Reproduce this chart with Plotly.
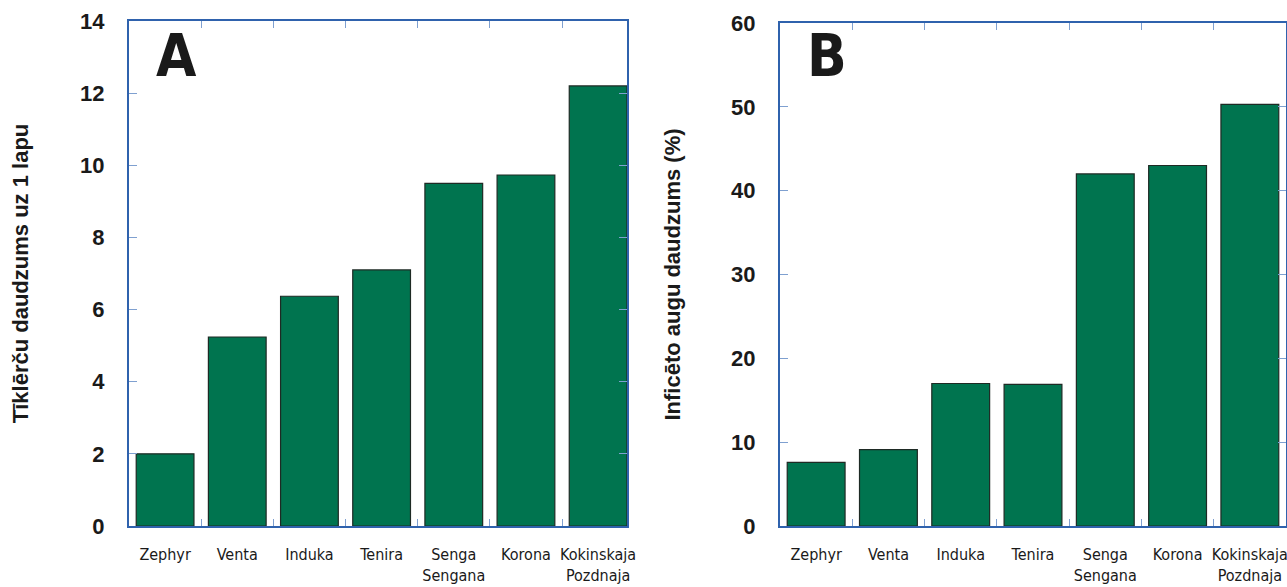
import plotly.graph_objects as go

# Cultivar names (x categories, shared by both panels)
cultivars = ["Zephyr", "Venta", "Induka", "Tenira", "Senga<br>Sengana",
             "Korona", "Kokinskaja<br>Pozdnaja"]

# Panel A: mites per leaf
mites_per_leaf = [2.0, 5.24, 6.37, 7.1, 9.5, 9.73, 12.2]
# Panel B: infected plants (%)
infected_pct = [7.6, 9.1, 17.0, 16.9, 42.0, 43.0, 50.3]

a_ticks = [0, 2, 4, 6, 8, 10, 12, 14]
b_ticks = [0, 10, 20, 30, 40, 50, 60]

BAR = "#00744f"
AXIS = "#2f62ad"
TICK = "#7fa0d0"
INK = "#1a1a1a"
NARROW = "DejaVu Sans Condensed"

fig = go.Figure()
fig.add_trace(go.Bar(x=cultivars, y=mites_per_leaf, xaxis="x", yaxis="y",
                     marker=dict(color=BAR, line=dict(color="#1e2a24", width=1.2)),
                     width=0.8, showlegend=False))
fig.add_trace(go.Bar(x=cultivars, y=infected_pct, xaxis="x2", yaxis="y2",
                     marker=dict(color=BAR, line=dict(color="#1e2a24", width=1.2)),
                     width=0.8, showlegend=False))

xcommon = dict(type="category", showgrid=False, showline=True, linecolor=AXIS,
               linewidth=2, mirror="ticks", ticks="inside", tickson="boundaries",
               ticklen=7, tickcolor=TICK, tickwidth=1.2, tickangle=0, automargin=False,
               ticklabelstandoff=13,
               tickfont=dict(family=NARROW, size=16, color=INK))
ycommon = dict(showgrid=False, showline=True, linecolor=AXIS, linewidth=2,
               mirror="ticks", ticks="inside", ticklen=8, tickcolor=TICK, tickwidth=1.2,
               zeroline=False, automargin=False, ticklabelstandoff=18,
               tickfont=dict(family="Liberation Sans, Arial", size=22, color=INK,
                             weight="bold"),
               title_font=dict(family="Liberation Sans, Arial", size=22, color=INK,
                               weight="bold"))

fig.update_layout(
    width=1287, height=587,
    margin=dict(l=0, r=0, t=0, b=0, autoexpand=False),
    paper_bgcolor="white", plot_bgcolor="white",
    bargap=0.2,
    xaxis=dict(xcommon, domain=[129 / 1287, 627 / 1287], range=[-0.5, 6.4], anchor="y"),
    yaxis=dict(ycommon, domain=[61 / 587, 566 / 587], range=[0, 14], tickvals=a_ticks,
               anchor="x", title=dict(text="Tīklērču daudzums uz 1 lapu", standoff=45)),
    xaxis2=dict(xcommon, domain=[780 / 1287, 1286 / 1287], range=[-0.5, 6.5], anchor="y2"),
    yaxis2=dict(ycommon, domain=[61 / 587, 564 / 587], range=[0, 60], tickvals=b_ticks,
                anchor="x2", title=dict(text="Inficēto augu daudzums (%)", standoff=44)),
)

# Panel letters
for ref, letter in (("x", "A"), ("x2", "B")):
    fig.add_annotation(text=letter, xref=ref + " domain", yref="paper",
                       x=0.05, y=0.966, xanchor="left", yanchor="top", showarrow=False,
                       font=dict(family=NARROW, size=58, color=INK, weight="bold"))

fig.write_html("out.html")
